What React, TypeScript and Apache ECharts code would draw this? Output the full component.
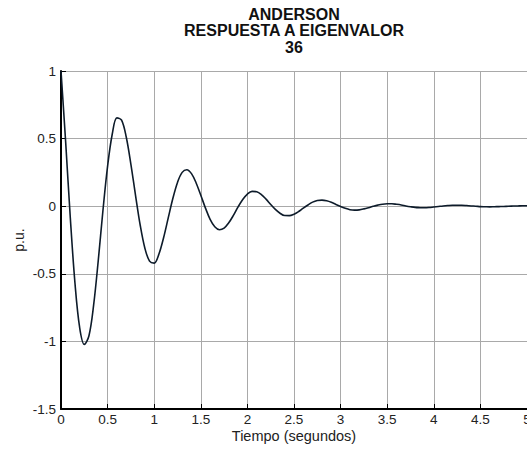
import React, { useEffect, useRef } from "react";
import * as echarts from "echarts";

const titleLines = ["ANDERSON", "RESPUESTA A EIGENVALOR", "36"];
const xAxisName = "Tiempo (segundos)";
const yAxisName = "p.u.";

const times = [
  0, 0.05, 0.1, 0.15, 0.2, 0.25, 0.3, 0.35, 0.4, 0.45,
  0.5, 0.55, 0.6, 0.65, 0.7, 0.75, 0.8, 0.85, 0.9, 0.95,
  1.0, 1.05, 1.1, 1.15, 1.2, 1.25, 1.3, 1.35, 1.4, 1.45,
  1.5, 1.55, 1.6, 1.65, 1.7, 1.75, 1.8, 1.85, 1.9, 1.95,
  2.0, 2.05, 2.1, 2.15, 2.2, 2.25, 2.3, 2.35, 2.4, 2.45,
  2.5, 2.55, 2.6, 2.65, 2.7, 2.75, 2.8, 2.85, 2.9, 2.95,
  3.0, 3.05, 3.1, 3.15, 3.2, 3.25, 3.3, 3.35, 3.4, 3.45,
  3.5, 3.55, 3.6, 3.65, 3.7, 3.75, 3.8, 3.85, 3.9, 3.95,
  4.0, 4.05, 4.1, 4.15, 4.2, 4.25, 4.3, 4.35, 4.4, 4.45,
  4.5, 4.55, 4.6, 4.65, 4.7, 4.75, 4.8, 4.85, 4.9, 4.95,
  5.0,
];

const response = [
  1.0, 0.475, -0.087, -0.57, -0.897, -1.022, -0.958, -0.732, -0.4, -0.032,
  0.296, 0.534, 0.653, 0.637, 0.512, 0.31, 0.079, -0.141, -0.311, -0.406,
  -0.421, -0.355, -0.235, -0.088, 0.057, 0.176, 0.25, 0.27, 0.241, 0.172,
  0.081, -0.014, -0.097, -0.152, -0.174, -0.162, -0.123, -0.068, -0.005, 0.05,
  0.09, 0.11, 0.107, 0.086, 0.052, 0.013, -0.024, -0.052, -0.069, -0.07,
  -0.059, -0.039, -0.014, 0.009, 0.03, 0.042, 0.045, 0.04, 0.029, 0.013,
  -0.002, -0.016, -0.026, -0.029, -0.027, -0.02, -0.011, -0.001, 0.008, 0.015,
  0.018, 0.018, 0.014, 0.009, 0.002, -0.004, -0.009, -0.011, -0.012, -0.01,
  -0.006, -0.002, 0.002, 0.005, 0.007, 0.007, 0.007, 0.005, 0.002, 0.0,
  -0.003, -0.004, -0.005, -0.004, -0.003, -0.002, 0.0, 0.001, 0.002, 0.003,
  0.003,
];

const FONT = "'Liberation Sans', Arial, Helvetica, sans-serif";

export default function App() {
  const ref = useRef<HTMLDivElement>(null);

  useEffect(() => {
    if (!ref.current) return;
    const chart = echarts.init(ref.current, null, { renderer: "svg" });
    chart.setOption({
      animation: false,
      backgroundColor: "#ffffff",
      grid: {
        left: 61,
        right: 0,
        top: 71,
        bottom: 44,
        containLabel: false,
        outerBoundsMode: "none",
      },
      graphic: [
        {
          type: "text",
          x: 294,
          y: 6,
          style: {
            text: titleLines.join("\n"),
            fill: "#111",
            font: `bold 16px ${FONT}`,
            textAlign: "center",
            lineHeight: 16.5,
          },
        },
        {
          type: "text",
          x: 294,
          y: 436,
          style: {
            text: xAxisName,
            fill: "#222",
            font: `14.5px ${FONT}`,
            textAlign: "center",
            textVerticalAlign: "middle",
          },
        },
        {
          type: "text",
          x: 19,
          y: 240,
          rotation: Math.PI / 2,
          style: {
            text: yAxisName,
            fill: "#222",
            font: `14px ${FONT}`,
            textAlign: "center",
            textVerticalAlign: "middle",
          },
        },
      ],
      xAxis: {
        type: "value",
        min: 0,
        max: 5,
        interval: 0.5,
        axisLine: { show: true, onZero: false, lineStyle: { color: "#000", width: 2 } },
        axisTick: { show: true, inside: true, length: 5, lineStyle: { color: "#000" } },
        axisLabel: { color: "#222", fontSize: 13.5, fontFamily: FONT, margin: 3, hideOverlap: false },
        splitLine: { show: true, lineStyle: { color: "#a9a9a9", width: 1 } },
      },
      yAxis: {
        type: "value",
        min: -1.5,
        max: 1,
        interval: 0.5,
        axisLine: { show: true, onZero: false, lineStyle: { color: "#000", width: 2 } },
        axisTick: { show: true, inside: true, length: 5, lineStyle: { color: "#000" } },
        axisLabel: { color: "#222", fontSize: 13.5, fontFamily: FONT, margin: 5 },
        splitLine: { show: true, lineStyle: { color: "#a9a9a9", width: 1 } },
      },
      series: [
        {
          type: "line",
          data: times.map((t, i) => [t, response[i]]),
          smooth: 0.35,
          showSymbol: false,
          lineStyle: { color: "#0d1b2a", width: 1.6 },
        },
      ],
    });
    return () => chart.dispose();
  }, []);

  return <div ref={ref} style={{ width: 527, height: 453, position: "absolute", left: 0, top: 0 }} />;
}
